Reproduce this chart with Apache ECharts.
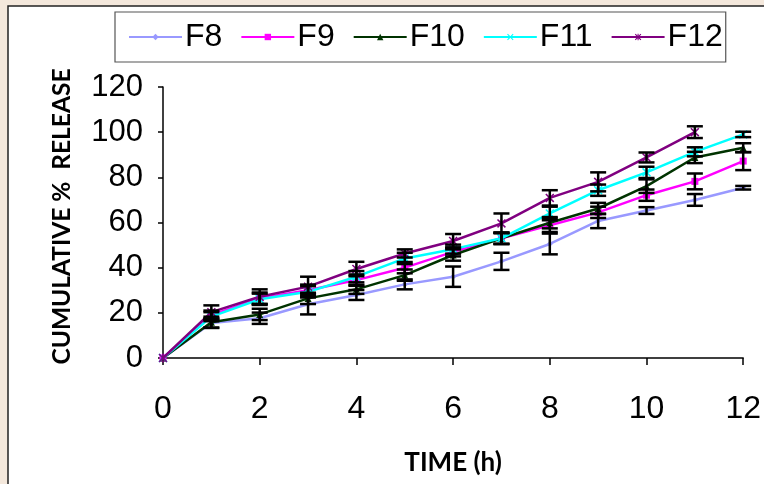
<!DOCTYPE html>
<html><head><meta charset="utf-8">
<script src="https://cdn.jsdelivr.net/npm/echarts@6/dist/echarts.min.js"></script>
<style>html,body{margin:0;padding:0;background:#fff}#c{width:764px;height:484px}</style>
</head><body><div id="c"></div>
<script>
const times = [0,1,2,3,4,5,6,7,8,9,10,11,12];
const seriesNames = ['F8','F9','F10','F11','F12'];
const F8  = [0, 15.5, 17.6, 23.8, 27.9, 32.6, 36.0, 42.8, 50.5, 60.7, 65.3, 70.0, 75.4];
const F9  = [0, 19.0, 26.5, 30.0, 34.5, 40.0, 47.0, 53.0, 58.8, 64.5, 72.1, 78.2, 87.2];
const F10 = [0, 15.8, 19.3, 26.4, 30.4, 36.7, 45.6, 53.0, 59.9, 66.2, 76.1, 88.8, 93.1];
const F11 = [0, 18.3, 26.0, 29.3, 36.0, 44.1, 48.2, 53.0, 64.0, 74.3, 82.2, 91.3, 99.0];
const F12 = [0, 20.3, 27.1, 31.6, 39.4, 46.3, 51.8, 59.6, 70.9, 78.0, 88.8, 100.0];
const F8err  = [0, 2.0, 2.5, 4.5, 2.2, 2.2, 4.5, 3.8, 4.6, 3.2, 1.5, 2.6, 0.8];
const F9err  = [0, 2.0, 2.5, 2.5, 2.5, 2.5, 2.0, 2.5, 3.0, 2.5, 2.5, 3.5, 4.0];
const F10err = [0, 2.5, 2.5, 2.5, 2.0, 2.5, 2.5, 2.5, 2.5, 2.5, 3.0, 2.5, 2.0];
const F11err = [0, 2.0, 2.5, 2.5, 2.5, 2.5, 2.0, 2.5, 3.0, 2.5, 2.5, 2.0, 1.2];
const F12err = [0, 3.0, 3.3, 4.4, 3.2, 1.8, 3.1, 4.4, 3.4, 4.2, 2.2, 2.6];
const xTicks = [0,2,4,6,8,10,12];
const yTicks = [0,20,40,60,80,100,120];

const values = [F8,F9,F10,F11,F12];
const errs = [F8err,F9err,F10err,F11err,F12err];
const colors = ['#9999FF','#FF00FF','#003300','#00FFFF','#800080'];
const X = 'path://M0,1.2L1.2,0L5,3.8L8.8,0L10,1.2L6.2,5L10,8.8L8.8,10L5,6.2L1.2,10L0,8.8L3.8,5Z';
const STAR = 'path://M0,1.2L1.2,0L5,3.8L8.8,0L10,1.2L6.2,5L10,8.8L8.8,10L5,6.2L1.2,10L0,8.8L3.8,5Z M4.2,0L5.8,0L5.8,10L4.2,10Z';
const symbols = ['diamond','rect','triangle',X,STAR];
const symSizes = [6,7,7,9,9];
const font = '"Liberation Sans", Arial, sans-serif';
const titleFont = 'Lato, "Open Sans", sans-serif';

const series = [];
values.forEach((v,i)=>{
  series.push({
    name: seriesNames[i], type:'line',
    data: v.map((y,k)=>[times[k], y]),
    symbol: symbols[i], symbolSize: symSizes[i], showAllSymbol:true,
    lineStyle:{color:colors[i], width:2.5},
    itemStyle:{color:colors[i]},
    z: 3+i, animation:false
  });
});
const errData = [];
values.forEach((v,i)=>{ v.forEach((y,k)=>{ if(errs[i][k]>0) errData.push([times[k], y, errs[i][k]]); }); });
series.push({
  type:'custom', name:'err', z: 20, animation:false, silent:true,
  data: errData,
  renderItem: function(params, api){
    const x = api.value(0), y = api.value(1), e = api.value(2);
    const top = api.coord([x, y+e]);
    const bot = api.coord([x, y-e]);
    const hw = 8;
    const st = {stroke:'#000', lineWidth:2.5};
    return {type:'group', children:[
      {type:'line', shape:{x1:top[0], y1:top[1], x2:bot[0], y2:bot[1]}, style:st},
      {type:'line', shape:{x1:top[0]-hw, y1:top[1], x2:top[0]+hw, y2:top[1]}, style:st},
      {type:'line', shape:{x1:bot[0]-hw, y1:bot[1], x2:bot[0]+hw, y2:bot[1]}, style:st}
    ]};
  }
});

const chart = echarts.init(document.getElementById('c'), null, {renderer:'canvas'});
chart.setOption({
  backgroundColor:'#f4e8dc',
  animation:false,
  graphic:[
    {type:'rect', shape:{x:8, y:6, width:800, height:520}, style:{fill:'#ffffff', stroke:'#222', lineWidth:1.5}, z:-10}
  ],
  legend:{
    data: seriesNames,
    left:115, top:12,
    padding:[9,3,9,13],
    itemGap:18, itemWidth:53, itemHeight:8,
    borderColor:'#555', borderWidth:1.2,
    backgroundColor:'#fff',
    textStyle:{fontFamily:font, fontSize:32, color:'#000', padding:[0,0,0,-2]}
  },
  grid:{left:163, right:19, top:87, bottom:126},
  xAxis:{
    type:'value', min:0, max:12, interval:2,
    name:'TIME (h)', nameLocation:'middle', nameGap:92,
    nameTextStyle:{fontFamily:titleFont, fontWeight:'bold', fontSize:26, color:'#000'},
    axisLine:{show:true, onZero:false, lineStyle:{color:'#000', width:1.5}},
    axisTick:{show:true, length:7, inside:false, lineStyle:{color:'#000', width:1.5}},
    axisLabel:{fontFamily:font, fontSize:32, color:'#000', margin:35,
      formatter:(v)=> xTicks.includes(v) ? String(v) : ''},
    splitLine:{show:false}
  },
  yAxis:{
    type:'value', min:0, max:120, interval:20,
    name:'CUMULATIVE %  RELEASE', nameLocation:'middle', nameGap:88, nameRotate:90,
    nameTextStyle:{fontFamily:titleFont, fontWeight:'bold', fontSize:24.5, color:'#000', padding:[0,0,0,12]},
    axisLine:{show:true, lineStyle:{color:'#000', width:1.5}},
    axisTick:{show:true, length:5, inside:false, lineStyle:{color:'#000', width:1.5}},
    axisLabel:{fontFamily:font, fontSize:31, color:'#000', margin:20,
      formatter:(v)=> yTicks.includes(v) ? String(v) : ''},
    splitLine:{show:false}
  },
  series: series
});
</script></body></html>
